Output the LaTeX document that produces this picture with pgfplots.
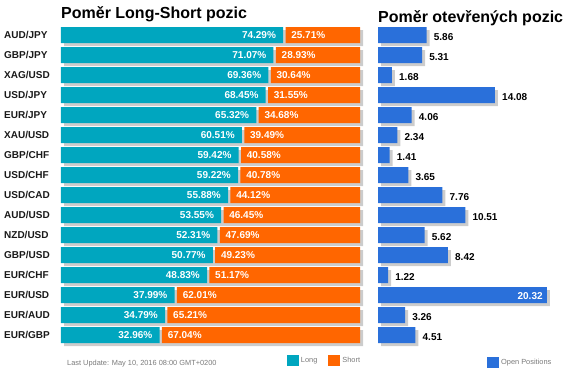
\documentclass[border=0pt]{standalone}
\usepackage{pgfplots}
\pgfplotsset{compat=1.18}
\usepackage{pgfplotstable}
\usepackage{fontspec}
\setmainfont{Liberation Sans}
\definecolor{cteal}{HTML}{00A6BF}
\definecolor{corange}{HTML}{FF6600}
\definecolor{cblue}{HTML}{2A70DA}
\definecolor{cshadow}{HTML}{CCCCCC}
\definecolor{cgreytext}{HTML}{7A7A7A}
\tikzset{vlab/.style={font=\fontsize{10}{12}\selectfont\bfseries, inner sep=0pt}}
\pgfplotstableread{
i L S V
0 74.29 25.71 5.86
1 71.07 28.93 5.31
2 69.36 30.64 1.68
3 68.45 31.55 14.08
4 65.32 34.68 4.06
5 60.51 39.49 2.34
6 59.42 40.58 1.41
7 59.22 40.78 3.65
8 55.88 44.12 7.76
9 53.55 46.45 10.51
10 52.31 47.69 5.62
11 50.77 49.23 8.42
12 48.83 51.17 1.22
13 37.99 62.01 20.32
14 34.79 65.21 3.26
15 32.96 67.04 4.51
}\data
\begin{document}
\begin{tikzpicture}
\useasboundingbox (0,0) rectangle (571pt,376pt);
\pgfplotsset{
  base/.style={scale only axis, anchor=south west, height=320pt,
    ymin=-0.5, ymax=15.5, y dir=reverse,
    axis line style={draw=none}, tick style={draw=none},
    xtick=\empty, ytick=\empty, clip=false, bar width=16pt},
  leftax/.style={base, width=299pt, xmin=0, xmax=100},
  rightax/.style={base, width=182.8pt, xmin=0, xmax=22},
  legimg/.style={legend image code/.code={\fill[##1] (0pt,-5.5pt) rectangle (12pt,5.5pt);}},
}
% ---------- left shadow
\begin{axis}[leftax, at={(64pt,28pt)}]
\addplot[xbar, bar shift=0pt, fill=cshadow, draw=none] table[x expr=100, y=i]{\data};
\end{axis}
% ---------- left main
\begin{axis}[leftax, at={(61pt,31pt)}, xbar stacked,
  ytick={0,...,15},
  yticklabels={AUD/JPY,GBP/JPY,XAG/USD,USD/JPY,EUR/JPY,XAU/USD,GBP/CHF,USD/CHF,USD/CAD,AUD/USD,NZD/USD,GBP/USD,EUR/CHF,EUR/USD,EUR/AUD,EUR/GBP},
  yticklabel style={anchor=west, xshift=-57pt, inner sep=0pt, font=\fontsize{10}{12}\selectfont\bfseries, text=black!90},
  legimg,
  legend columns=2,
  legend style={draw=none, fill=none, at={(0.755,-0.048)}, anchor=west,
    font=\fontsize{7.4}{9}\selectfont, text=cgreytext, inner sep=0pt,
    /tikz/every even column/.append style={column sep=9pt}},
]
\addplot[fill=cteal, draw=none, bar shift=0pt] table[x=L, y=i]{\data};
\addlegendentry{Long}
\addplot[forget plot, fill=none, draw=none, bar shift=0pt] table[x expr=0.8, y=i]{\data};
\addplot[fill=corange, draw=none, bar shift=0pt]
  table[x expr=\thisrow{S}-0.8, y=i]{\data};
\addlegendentry{Short}
\end{axis}
% ---------- left value labels
\begin{axis}[leftax, at={(61pt,31pt)}, xbar]
\addplot[fill=none, draw=none, bar shift=0pt,
  nodes near coords={\pgfplotspointmeta\%}, point meta=explicit symbolic,
  every node near coord/.append style={vlab, text=white, anchor=east, xshift=-7pt}]
  table[x=L, y=i, meta=L]{\data};
\addplot[fill=none, draw=none, bar shift=0pt,
  nodes near coords={\pgfplotspointmeta\%}, point meta=explicit symbolic,
  every node near coord/.append style={vlab, text=white, anchor=west, xshift=8pt}]
  table[x=L, y=i, meta=S]{\data};
\end{axis}
% ---------- right shadow
\begin{axis}[rightax, at={(381pt,28pt)}]
\addplot[xbar, bar shift=0pt, fill=cshadow, draw=none] table[x=V, y=i]{\data};
\end{axis}
% ---------- right main
\begin{axis}[rightax, at={(378pt,31pt)}, xbar,
  legimg,
  legend style={draw=none, fill=none, at={(0.596,-0.055)}, anchor=west,
    font=\fontsize{7.4}{9}\selectfont, text=cgreytext, inner sep=0pt},
]
\addplot[fill=cblue, draw=none, bar shift=0pt] table[x=V, y=i]{\data};
\addlegendentry{Open Positions}
\addplot[forget plot, fill=none, draw=none, bar shift=0pt,
  skip coords between index={13}{14},
  nodes near coords, point meta=explicit symbolic,
  every node near coord/.append style={vlab, text=black, anchor=west, xshift=7pt, yshift=-2pt}]
  table[x=V, y=i, meta=V]{\data};
\addplot[forget plot, fill=none, draw=none, bar shift=0pt,
  skip coords between index={0}{13}, skip coords between index={14}{16},
  nodes near coords, point meta=explicit symbolic,
  every node near coord/.append style={vlab, text=white, anchor=east, xshift=-4pt, yshift=-1pt}]
  table[x=V, y=i, meta=V]{\data};
\end{axis}
% ---------- titles and footer
\node[anchor=base west, inner sep=0pt, font=\fontsize{16}{18}\selectfont\bfseries] at (61pt,357pt) {Poměr Long-Short pozic};
\node[anchor=base west, inner sep=0pt, font=\fontsize{16}{18}\selectfont\bfseries] at (378pt,354pt) {Poměr otevřených pozic};
\node[anchor=base west, inner sep=0pt, font=\fontsize{7.4}{9}\selectfont, text=cgreytext] at (67pt,11pt) {Last Update: May 10, 2016 08:00 GMT+0200};
\end{tikzpicture}
\end{document}
